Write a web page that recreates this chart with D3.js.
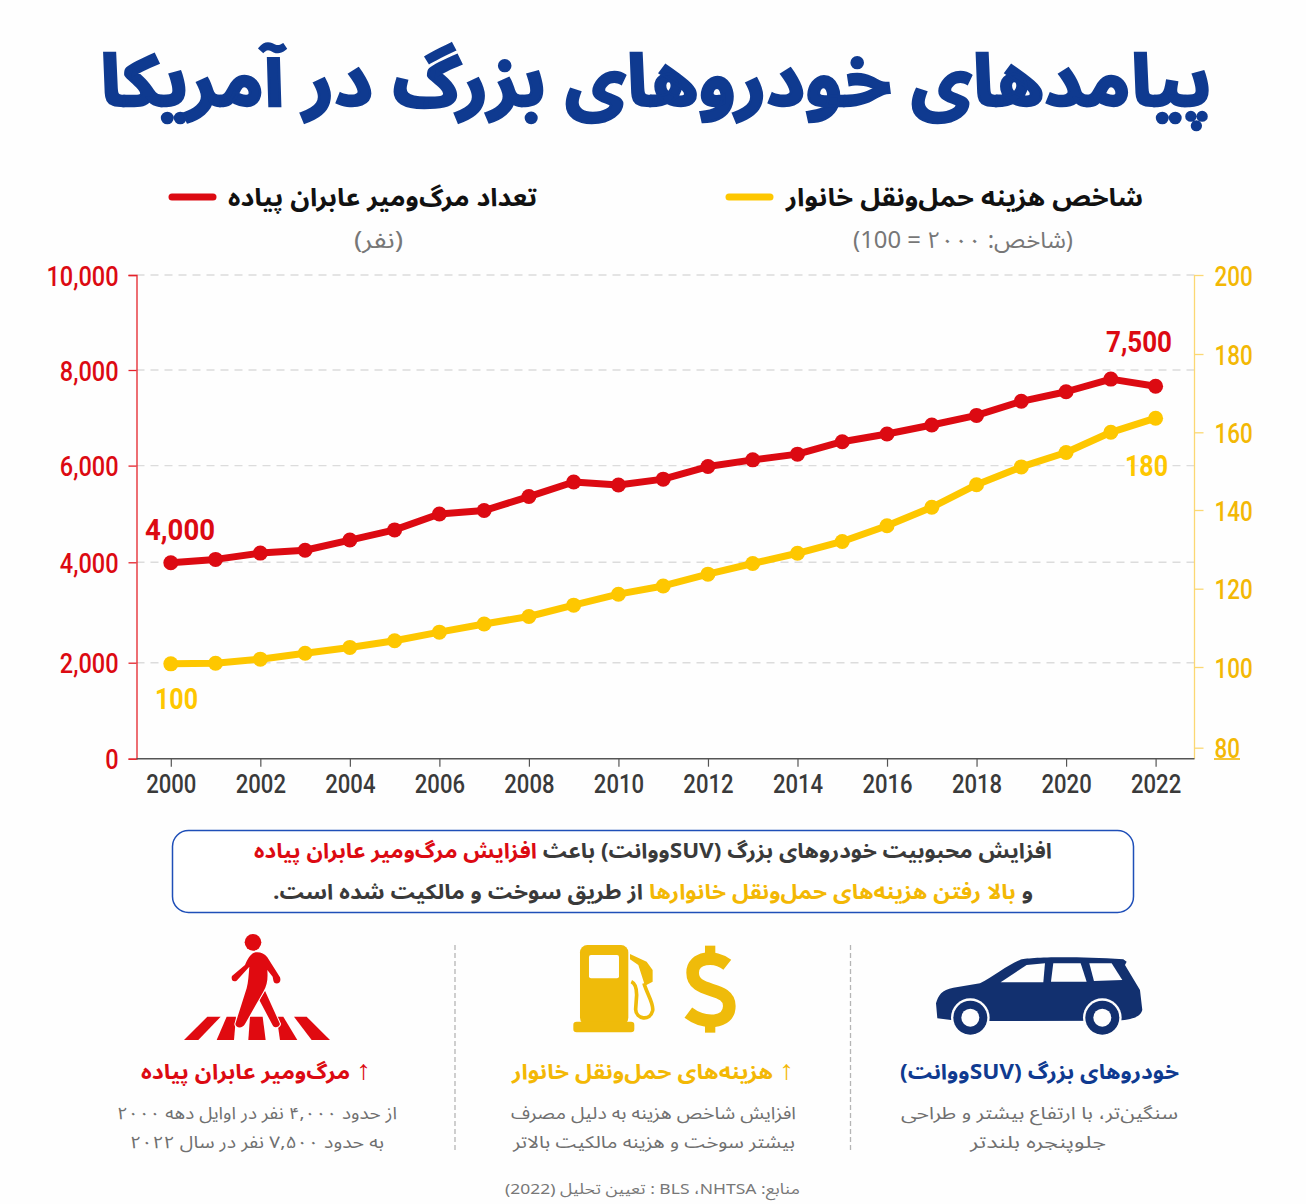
<!DOCTYPE html>
<html lang="fa"><head><meta charset="utf-8">
<script src="https://cdn.jsdelivr.net/npm/d3@7"></script>
<style>
html,body{margin:0;padding:0;background:#fefefe;}
svg{display:block;}
.fa{font-family:"Noto Sans Arabic","Vazirmatn","DejaVu Sans",sans-serif;direction:rtl;}
.num{font-family:"Roboto",sans-serif;}
</style></head><body>
<svg id="c" width="1306" height="1204"></svg>
<script>
const years=[2000,2001,2002,2003,2004,2005,2006,2007,2008,2009,2010,2011,2012,2013,2014,2015,2016,2017,2018,2019,2020,2021,2022];
const deaths=[3990,4060,4190,4250,4460,4670,5000,5070,5360,5660,5600,5720,5980,6120,6240,6500,6660,6850,7050,7345,7545,7810,7660];
const costIndex=[100.8,100.95,102,103.5,105,106.7,108.9,111,112.9,115.8,118.6,120.7,123.7,126.4,129,132,136,140.7,146.5,151.1,154.8,160,163.6];
const leftTicks=[0,2000,4000,6000,8000,10000];
const rightTicks=[80,100,120,140,160,180,200];
const yearTicks=[2000,2002,2004,2006,2008,2010,2012,2014,2016,2018,2020,2022];

const RED="#dc0a12",GOLD="#fec700",GOLDT="#f3b805",NAVY="#0f3a90",CAR="#12306f",INK="#3a3a3a",GRAY="#6f6f6f",BG="#fefefe";
const svg=d3.select("#c");
const x=d3.scaleLinear().domain([2000,2022]).range([170.8,1155.6]);
const yL=d3.scaleLinear().domain(leftTicks).range([758.7,662.7,562.3,465.6,370,275]);
const yR=d3.scaleLinear().domain(rightTicks).range([747.7,667,588.7,510,432.3,354,275]);
const plotL=136.5,plotR=1194.5,plotB=758.7;

function fa(parent,str,x1,x2,base,size,weight,fill){
  return parent.append("text").attr("class","fa").attr("x",(x1+x2)/2).attr("y",base)
    .attr("text-anchor","middle").attr("font-size",size).attr("font-weight",weight).attr("fill",fill)
    .attr("textLength",x2-x1).attr("lengthAdjust","spacingAndGlyphs").text(str);
}
function num(str,x1,x2,base,size,fill){
  return svg.append("text").attr("class","num").attr("x",(x1+x2)/2).attr("y",base)
    .attr("text-anchor","middle").attr("font-size",size).attr("font-weight",700).attr("fill",fill)
    .attr("textLength",x2-x1).attr("lengthAdjust","spacingAndGlyphs").text(str);
}
function condense(sel,factor){
  sel.each(function(){
    const len=this.getComputedTextLength();
    d3.select(this).attr("textLength",len*factor).attr("lengthAdjust","spacingAndGlyphs");
  });
}

// header
fa(svg,"پیامدهای خودروهای بزرگ در آمریکا",100,1212,106,72,700,NAVY).attr("stroke",NAVY).attr("stroke-width",2.5);
fa(svg,"تعداد مرگ‌ومیر عابران پیاده",228,537,206,25,700,"#111");
fa(svg,"شاخص هزینه حمل‌ونقل خانوار",786,1143,206,25,700,"#111");
fa(svg,"(نفر)",354,403,248,23,400,"#777");
fa(svg,"(شاخص: ۲۰۰۰ = 100)",853,1073,248,23,400,"#777");
svg.append("line").attr("x1",172).attr("x2",213).attr("y1",197).attr("y2",197).attr("stroke",RED).attr("stroke-width",7).attr("stroke-linecap","round");
svg.append("line").attr("x1",729).attr("x2",770).attr("y1",197).attr("y2",197).attr("stroke",GOLD).attr("stroke-width",7).attr("stroke-linecap","round");

// grid
svg.append("g").selectAll("line").data(leftTicks.filter(d=>d>0)).join("line")
  .attr("x1",plotL).attr("x2",plotR).attr("y1",d=>yL(d)).attr("y2",d=>yL(d))
  .attr("stroke","#dcdcdc").attr("stroke-width",1.4).attr("stroke-dasharray","8 6");

// axes
const gL=svg.append("g").attr("transform",`translate(${plotL},0)`)
  .call(d3.axisLeft(yL).tickValues(leftTicks).tickFormat(d3.format(",")).tickSize(8).tickPadding(10));
gL.select(".domain").attr("stroke","#e4222a").attr("stroke-width",1.3);
gL.selectAll(".tick line").attr("stroke","#e4222a").attr("stroke-width",1.3);
gL.selectAll("text").attr("class","num").attr("font-size",28).attr("font-weight",500).attr("fill",RED).attr("dy","0.36em");
condense(gL.selectAll("text"),0.84);

const gR=svg.append("g").attr("transform",`translate(${plotR},0)`)
  .call(d3.axisRight(yR).tickValues(rightTicks).tickSize(9).tickPadding(11));
gR.select(".domain").attr("d",`M0,${yR(200)}V${plotB}`).attr("stroke","#fbd873").attr("stroke-width",1.3);
gR.selectAll(".tick line").attr("stroke","#fbd873").attr("stroke-width",1.3);
gR.selectAll("text").attr("class","num").attr("font-size",28).attr("font-weight",500).attr("fill",GOLDT).attr("dy","0.36em");
condense(gR.selectAll("text"),0.80);
svg.append("line").attr("x1",1214).attr("x2",1240).attr("y1",759).attr("y2",759).attr("stroke",GOLDT).attr("stroke-width",1.6);

const gX=svg.append("g").attr("transform",`translate(0,${plotB})`)
  .call(d3.axisBottom(x).tickValues(yearTicks).tickFormat(d3.format("d")).tickSize(8).tickPadding(8));
gX.select(".domain").attr("d",`M${plotL},0H${plotR}`).attr("stroke","#555").attr("stroke-width",1.4);
gX.selectAll(".tick line").attr("stroke","#555").attr("stroke-width",1.2);
gX.selectAll("text").attr("class","num").attr("font-size",26).attr("font-weight",500).attr("fill",INK);
condense(gX.selectAll("text"),0.85);

// series
function series(vals,scale,color){
  const pts=vals.map((v,i)=>[x(years[i]),scale(v)]);
  svg.append("path").attr("d",d3.line()(pts)).attr("fill","none").attr("stroke",color).attr("stroke-width",7).attr("stroke-linejoin","round");
  svg.append("g").selectAll("circle").data(pts).join("circle").attr("cx",d=>d[0]).attr("cy",d=>d[1]).attr("r",7.5).attr("fill",color);
}
series(costIndex,yR,GOLD);
series(deaths,yL,RED);

num("4,000",145,215,540,30,RED);
num("100",155,198,709,30,GOLD);
num("7,500",1106,1172,352,30,RED);
num("180",1125,1168,476,30,GOLD);

// callout
svg.append("rect").attr("x",172.5).attr("y",830.5).attr("width",961).attr("height",82).attr("rx",16).attr("fill","#fff").attr("stroke","#1f4fb8").attr("stroke-width",1.5);
const t1=fa(svg,"",254,1052,858,21,700,INK);
t1.append("tspan").text("افزایش محبوبیت خودروهای بزرگ (SUVووانت) باعث ");
t1.append("tspan").attr("fill",RED).text("افزایش مرگ‌ومیر عابران پیاده");
const t2=fa(svg,"",273,1033,899,21,700,INK);
t2.append("tspan").text("و ");
t2.append("tspan").attr("fill",GOLDT).text("بالا رفتن هزینه‌های حمل‌ونقل خانوارها");
t2.append("tspan").text(" از طریق سوخت و مالکیت شده است.");

// separators
[455,850.5].forEach(px=>svg.append("line").attr("x1",px).attr("x2",px).attr("y1",945).attr("y2",1150).attr("stroke","#b5b5b5").attr("stroke-width",1.3).attr("stroke-dasharray","5 3"));

// pedestrian icon
const ped=svg.append("g").attr("transform","translate(130,920) scale(0.3333)").attr("fill","#e00a10");
ped.append("circle").attr("cx",369).attr("cy",67).attr("r",25);
["M232,290L272,290L205,360L162,360Z","M290,290L318,290L312,360L260,360Z","M360,290L398,290L407,360L355,360Z","M440,290L460,290L502,360L450,360Z","M492,290L530,290L600,360L545,360Z"].forEach(d=>ped.append("path").attr("d",d));
ped.append("path").attr("d","M388,240L405,212L450,312C448,322 432,326 428,316Z").attr("stroke",BG).attr("stroke-width",6).attr("paint-order","stroke");
ped.append("path").attr("d","M372,98C385,94 402,98 412,112L450,172C454,184 448,192 436,190C430,188 430,180 428,170L412,150C414,175 412,195 400,215L345,312C338,326 318,326 316,312L350,205C355,185 356,165 358,140L320,182C310,188 302,180 306,168L345,135C352,118 360,104 372,98Z").attr("stroke",BG).attr("stroke-width",6).attr("paint-order","stroke");

// pump icon
const PUMP="#efbb0a";
const pump=svg.append("g").attr("transform","translate(470,920) scale(0.3333)").attr("fill",PUMP);
pump.append("rect").attr("x",330).attr("y",75).attr("width",145).attr("height",240).attr("rx",22);
pump.append("rect").attr("x",310).attr("y",305).attr("width",183).attr("height",32).attr("rx",10);
pump.append("rect").attr("x",357).attr("y",105).attr("width",90).attr("height",70).attr("rx",6).attr("fill",BG);
pump.append("path").attr("d","M480,102L530,125L548,150L548,185L525,197L505,135L480,118Z");
pump.append("path").attr("d","M484,185C496,190 500,205 500,225L497,268C498,298 540,305 548,272C552,250 530,220 522,190").attr("fill","none").attr("stroke",PUMP).attr("stroke-width",11);
// dollar sign
pump.append("path").attr("d","M772,134C735,105 668,110 668,158C668,225 778,195 778,258C778,315 700,312 655,278").attr("fill","none").attr("stroke",PUMP).attr("stroke-width",38);
pump.append("rect").attr("x",705).attr("y",77).attr("width",31).attr("height",40);
pump.append("rect").attr("x",705).attr("y",298).attr("width",31).attr("height",40);

// SUV icon
const suv=svg.append("g").attr("transform","translate(870,920) scale(0.3333)").attr("fill",CAR);
suv.append("path").attr("d","M202,295L198,250C205,225 215,210 250,203L330,190C370,170 420,130 450,120C470,112 600,108 760,118L770,125L765,135L810,210L817,270C812,290 790,298 745,302L365,303L243,300Z");
["M392,187L470,135L525,130L520,187Z","M550,130L632,130L650,185L543,185Z","M658,130L725,130L757,180L672,183Z"].forEach(d=>suv.append("path").attr("d",d).attr("fill",BG));
[[301,293],[697,293]].forEach(([cx,cy])=>{
  suv.append("circle").attr("cx",cx).attr("cy",cy).attr("r",58).attr("fill",BG);
  suv.append("circle").attr("cx",cx).attr("cy",cy).attr("r",51);
  suv.append("circle").attr("cx",cx).attr("cy",cy).attr("r",27).attr("fill",BG);
});

// captions
function arrowCap(str,x1,x2,color){
  const t=fa(svg,"",x1,x2,1079,21,700,color);
  t.append("tspan").attr("font-family","Roboto").attr("font-size",27).text("↑");
  t.append("tspan").text(" "+str);
}
arrowCap("مرگ‌ومیر عابران پیاده",141,371,RED);
arrowCap("هزینه‌های حمل‌ونقل خانوار",512,794,GOLDT);
fa(svg,"خودروهای بزرگ (SUVووانت)",900,1179,1079,21,700,NAVY);
const caps=[
 ["از حدود ۴,۰۰۰ نفر در اوایل دهه ۲۰۰۰",117,397,1118.5],
 ["به حدود ۷,۵۰۰ نفر در سال ۲۰۲۲",130,384,1147.5],
 ["افزایش شاخص هزینه به دلیل مصرف",511,796,1118.5],
 ["بیشتر سوخت و هزینه مالکیت بالاتر",513,795,1147.5],
 ["سنگین‌تر، با ارتفاع بیشتر و طراحی",901,1178,1118.5],
 ["جلوپنجره بلندتر",970,1106,1147.5]];
caps.forEach(c=>fa(svg,c[0],c[1],c[2],c[3],17,400,GRAY));
fa(svg,"منابع: NHTSA\u200F، BLS : تعیین تحلیل (2022)",505,800,1194,15,400,"#777");
</script>
</body></html>
